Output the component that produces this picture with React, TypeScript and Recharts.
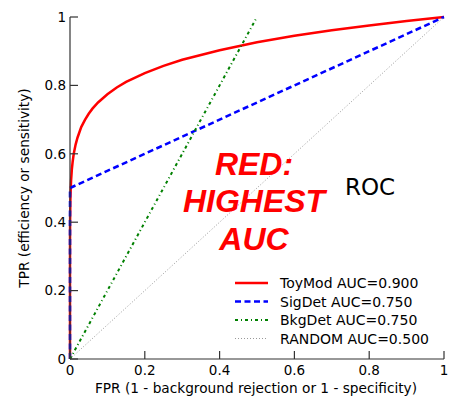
import React from 'react'
import { LineChart, Line, XAxis, YAxis } from 'recharts'

// ROC curves (FPR -> TPR)
const toyModFpr = [0, 0, 0.00001, 0.0001, 0.0003, 0.001, 0.002, 0.003, 0.005, 0.007, 0.01, 0.015, 0.02, 0.03, 0.04, 0.05, 0.06, 0.075, 0.1, 0.125, 0.15, 0.2, 0.25, 0.3, 0.4, 0.5, 0.6, 0.7, 0.8, 0.9, 1]
const toyModTpr = [0, 0.2, 0.278, 0.36, 0.406, 0.465, 0.501, 0.524, 0.555, 0.576, 0.6, 0.627, 0.647, 0.678, 0.699, 0.717, 0.732, 0.75, 0.774, 0.794, 0.81, 0.836, 0.857, 0.875, 0.903, 0.926, 0.945, 0.961, 0.975, 0.988, 1]
const sigDetFpr = [0, 0, 1]
const sigDetTpr = [0, 0.5, 1]
const bkgDetFpr = [0, 0.5]
const bkgDetTpr = [0, 1]
const randomFpr = [0, 1]
const randomTpr = [0, 1]

const ticks = [0, 0.2, 0.4, 0.6, 0.8, 1]

const legendItems = [
  { label: 'ToyMod AUC=0.900', color: '#ff0000', width: 2.5, dash: undefined },
  { label: 'SigDet AUC=0.750', color: '#0000ff', width: 2.5, dash: '6 3.5' },
  { label: 'BkgDet AUC=0.750', color: '#008000', width: 2, dash: '3 3 1 3' },
  { label: 'RANDOM AUC=0.500', color: '#999999', width: 1, dash: '1 2' },
]

const zip = (xs: number[], ys: number[]) => xs.map((x, i) => ({ x, y: ys[i] }))

const FONT = '"DejaVu Sans", sans-serif'
const tickStyle = { fontSize: 13.5, fill: '#000', fontFamily: FONT }
const axisLine = { stroke: '#333', strokeWidth: 1.2 }

export default function App() {
  return (
    <div style={{ position: 'absolute', left: 0, top: 0, width: 450, height: 400, background: '#fff' }}>
      <LineChart width={450} height={400} margin={{ top: 17, right: 6, bottom: 11, left: 20 }}>
        <XAxis
          xAxisId="bottom"
          type="number"
          dataKey="x"
          domain={[0, 1]}
          ticks={ticks}
          tick={tickStyle}
          tickSize={-8}
          tickMargin={14}
          axisLine={axisLine}
          tickLine={axisLine}
          height={30}
        />
        <XAxis
          xAxisId="top"
          orientation="top"
          type="number"
          dataKey="x"
          domain={[0, 1]}
          ticks={ticks}
          tickFormatter={() => ''}
          tickSize={-8}
          axisLine={axisLine}
          tickLine={axisLine}
          height={0}
        />
        <YAxis
          yAxisId="left"
          type="number"
          dataKey="y"
          domain={[0, 1]}
          ticks={ticks}
          tick={tickStyle}
          tickSize={-8}
          tickMargin={12}
          axisLine={axisLine}
          tickLine={axisLine}
          width={50}
        />
        <YAxis
          yAxisId="right"
          orientation="right"
          type="number"
          dataKey="y"
          domain={[0, 1]}
          ticks={ticks}
          tickFormatter={() => ''}
          tickSize={-8}
          axisLine={axisLine}
          tickLine={axisLine}
          width={0}
        />
        <Line xAxisId="bottom" yAxisId="left" data={zip(toyModFpr, toyModTpr)} dataKey="y" type="linear" stroke="#ff0000" strokeWidth={2.5} dot={false} isAnimationActive={false} />
        <Line xAxisId="bottom" yAxisId="left" data={zip(sigDetFpr, sigDetTpr)} dataKey="y" type="linear" stroke="#0000ff" strokeWidth={2.5} strokeDasharray="6 3.5" dot={false} isAnimationActive={false} />
        <Line xAxisId="bottom" yAxisId="left" data={zip(bkgDetFpr, bkgDetTpr)} dataKey="y" type="linear" stroke="#008000" strokeWidth={2} strokeDasharray="3 3 1 3" dot={false} isAnimationActive={false} />
        <Line xAxisId="bottom" yAxisId="left" data={zip(randomFpr, randomTpr)} dataKey="y" type="linear" stroke="#999999" strokeWidth={1} strokeDasharray="1 2" dot={false} isAnimationActive={false} />
      </LineChart>

      {/* titles, annotations and legend */}
      <svg width={450} height={400} style={{ position: 'absolute', left: 0, top: 0, pointerEvents: 'none' }}>
        <text x={256} y={393} textAnchor="middle" fontSize={13.7} fontFamily={FONT} fill="#000">
          FPR (1 - background rejection or 1 - specificity)
        </text>
        <text x={29} y={188} textAnchor="middle" fontSize={13.7} fontFamily={FONT} fill="#000" transform="rotate(-90 29 188)">
          TPR (efficiency or sensitivity)
        </text>
        <g fontFamily='"Liberation Sans", Arial, sans-serif' fontWeight="bold" fontStyle="italic" fontSize={32} fill="#ff0000" textAnchor="middle">
          <text x={254} y={175}>RED:</text>
          <text x={254} y={212}>HIGHEST</text>
          <text x={254} y={250}>AUC</text>
        </g>
        <text x={345} y={195} fontSize={23} fontFamily={FONT} fill="#000">ROC</text>
        {legendItems.map((item, i) => (
          <g key={item.label}>
            <line x1={235} x2={268} y1={283 + i * 18.5} y2={283 + i * 18.5} stroke={item.color} strokeWidth={item.width} strokeDasharray={item.dash} />
            <text x={280} y={288 + i * 18.5} fontSize={14} fontFamily={FONT} fill="#000">{item.label}</text>
          </g>
        ))}
      </svg>
    </div>
  )
}
